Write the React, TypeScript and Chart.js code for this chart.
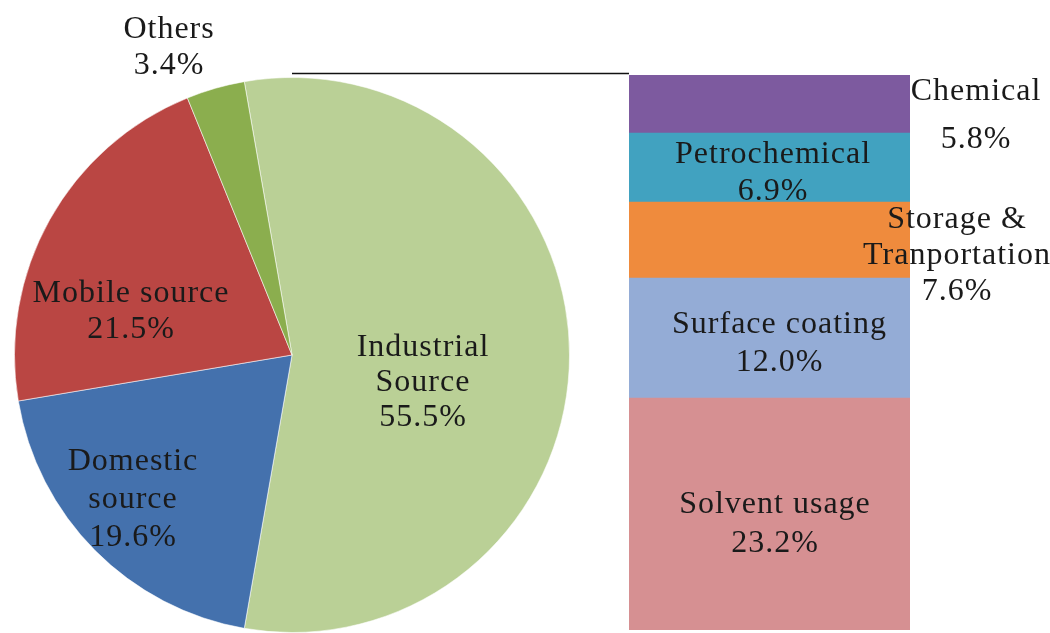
import React, { useEffect, useRef } from "react";
import { Chart, registerables } from "chart.js";

Chart.register(...registerables);

// ---- data ----
const pieCategories = ["Industrial Source", "Domestic source", "Mobile source", "Others"];
const pieValues = [55.5, 19.6, 21.5, 3.4];
const pieLabelLines = [["Industrial", "Source"], ["Domestic", "source"], ["Mobile source"], ["Others"]];

const barCategories = ["Solvent usage", "Surface coating", "Storage & Tranportation", "Petrochemical", "Chemical"];
const barValues = [23.2, 12.0, 7.6, 6.9, 5.8];
const barLabelLines = [["Solvent usage"], ["Surface coating"], ["Storage &", "Tranportation"], ["Petrochemical"], ["Chemical"]];

// ---- styles ----
const pieColors = ["#BAD096", "#4471AD", "#BA4643", "#8BAE4E"];
const barColors = ["#D69092", "#94ACD6", "#EF8B3D", "#41A2C0", "#7D5A9F"];
const FONT = '32px "Liberation Serif", "Times New Roman", serif';
const TEXT_COLOR = "#1a1a1a";

// label placement (pie: fractions of radius from centre, first baseline; bar: px from segment centre)
const pieLabelPos = [
  { dx: 0.472, dy: 0.004, lh: 35 },
  { dx: -0.573, dy: 0.414, lh: 38 },
  { dx: -0.58, dy: -0.191, lh: 36 },
  { dx: -0.443, dy: -1.142, lh: 36 },
];
const barLabelPos = [
  { dx: 5.5, dy: -1, lh: 39 },
  { dx: 10, dy: -5.5, lh: 38 },
  { dx: 187.5, dy: -12, lh: 36 },
  { dx: 3.5, dy: -4.5, lh: 37 },
  { dx: 206.5, dy: -4, lh: 48 },
];

const W = 1050;
const H = 633;

function drawLines(ctx: CanvasRenderingContext2D, lines: string[], x: number, y: number, lh: number) {
  ctx.save();
  ctx.font = FONT;
  (ctx as any).letterSpacing = "1px";
  ctx.fillStyle = TEXT_COLOR;
  ctx.textAlign = "center";
  ctx.textBaseline = "alphabetic";
  lines.forEach((t, i) => ctx.fillText(t, x, y + i * lh));
  ctx.restore();
}

export default function App() {
  const pieRef = useRef<HTMLCanvasElement | null>(null);
  const barRef = useRef<HTMLCanvasElement | null>(null);

  useEffect(() => {
    document.body.style.margin = "0";
    const pieCanvas = pieRef.current!;
    const barCanvas = barRef.current!;

    const pieLabelPlugin = {
      id: "pieLabels",
      afterDatasetsDraw(chart: any) {
        const ctx = chart.ctx;
        const meta = chart.getDatasetMeta(0);
        meta.data.forEach((arc: any, i: number) => {
          const p = pieLabelPos[i];
          const r = arc.outerRadius;
          const lines = [...pieLabelLines[i], pieValues[i].toFixed(1) + "%"];
          drawLines(ctx, lines, arc.x + p.dx * r, arc.y + p.dy * r, p.lh);
        });
      },
    };

    const pie = new Chart(pieCanvas, {
      type: "pie",
      data: {
        labels: pieCategories,
        datasets: [
          {
            data: pieValues,
            backgroundColor: pieColors,
            borderColor: "rgba(255,255,255,0.55)",
            borderWidth: 1,
          },
        ],
      },
      options: {
        responsive: false,
        animation: false,
        rotation: -9.9,
        layout: { padding: { left: 14, top: 77, right: 480, bottom: 0 } },
        plugins: { legend: { display: false }, tooltip: { enabled: false } },
      },
      plugins: [pieLabelPlugin],
    });

    const barLabelPlugin = {
      id: "barLabels",
      afterDatasetsDraw(chart: any) {
        const ctx = chart.ctx;
        // connector line from top of pie to top of bar
        const arc: any = pie.getDatasetMeta(0).data[0];
        const top: any = chart.getDatasetMeta(barValues.length - 1).data[0];
        const left = chart.chartArea.left;
        ctx.save();
        ctx.strokeStyle = "#111";
        ctx.lineWidth = 1.5;
        ctx.beginPath();
        ctx.moveTo(arc.x, top.y - 1.5);
        ctx.lineTo(left, top.y - 1.5);
        ctx.stroke();
        ctx.restore();

        barValues.forEach((v, i) => {
          const el: any = chart.getDatasetMeta(i).data[0];
          const cy = (el.y + el.base) / 2;
          const p = barLabelPos[i];
          const lines = [...barLabelLines[i], v.toFixed(1) + "%"];
          drawLines(ctx, lines, el.x + p.dx, cy + p.dy, p.lh);
        });
      },
    };

    const bar = new Chart(barCanvas, {
      type: "bar",
      data: {
        labels: ["Industrial Source"],
        datasets: barCategories.map((name, i) => ({
          label: name,
          data: [barValues[i]],
          backgroundColor: barColors[i],
          borderWidth: 0,
          barPercentage: 1,
          categoryPercentage: 1,
        })),
      },
      options: {
        responsive: false,
        animation: false,
        layout: { padding: { left: 629, right: 140, top: 75, bottom: 3 } },
        scales: {
          x: { stacked: true, display: false },
          y: { stacked: true, display: false, min: 0, max: 55.5 },
        },
        plugins: { legend: { display: false }, tooltip: { enabled: false } },
      },
      plugins: [barLabelPlugin],
    });

    return () => {
      bar.destroy();
      pie.destroy();
    };
  }, []);

  return (
    <div style={{ position: "absolute", left: 0, top: 0, width: W, height: H, background: "#fff" }}>
      <canvas ref={pieRef} width={W} height={H} style={{ position: "absolute", left: 0, top: 0 }} />
      <canvas ref={barRef} width={W} height={H} style={{ position: "absolute", left: 0, top: 0 }} />
    </div>
  );
}
